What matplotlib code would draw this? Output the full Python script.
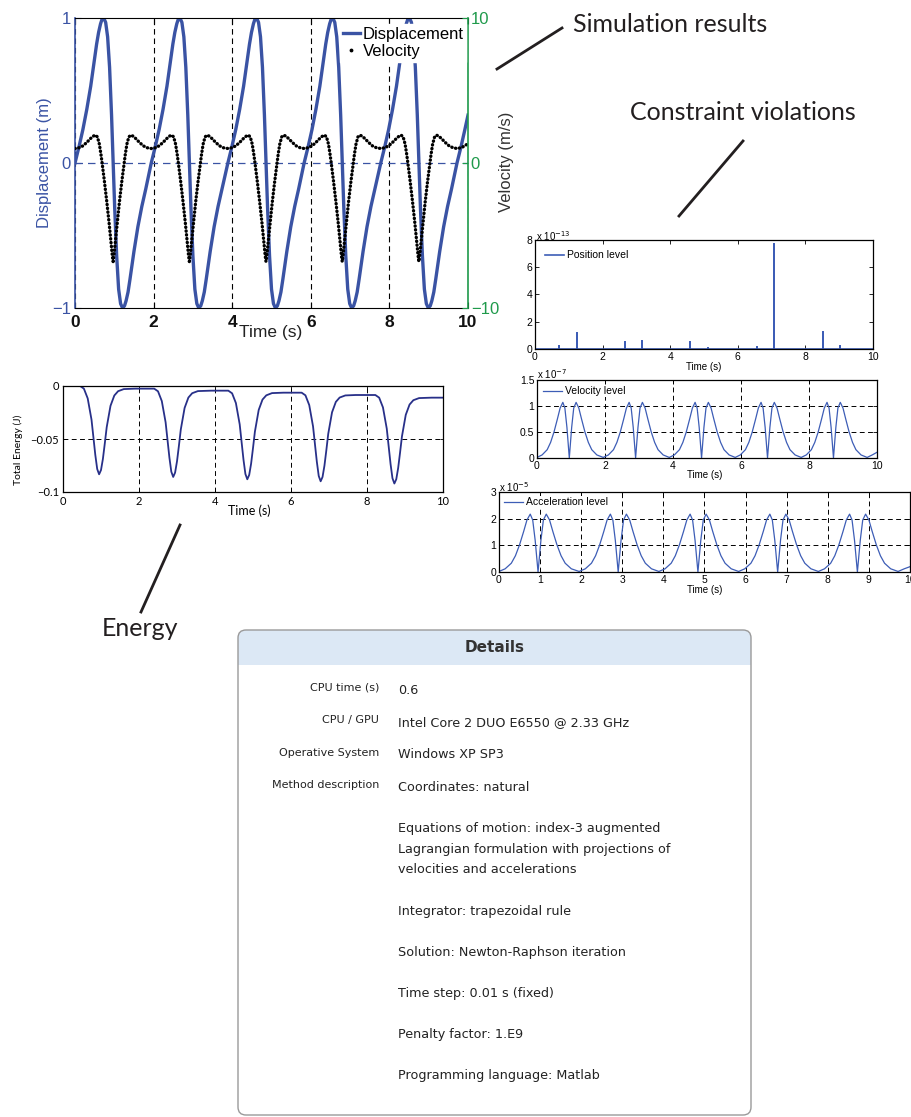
import numpy as np
import matplotlib.pyplot as plt
from matplotlib.lines import Line2D
from matplotlib.patches import FancyBboxPatch, Rectangle

plt.rcParams['font.family'] = ['Liberation Sans', 'DejaVu Sans']

W, H = 911, 1117

# ---- simulation results ----
disp_t = [0, 0.1, 0.2, 0.3, 0.4, 0.5, 0.55, 0.6, 0.65, 0.69, 0.73, 0.78, 0.83, 0.88, 0.93, 0.97, 1.01, 1.06, 1.11, 1.16, 1.21, 1.26, 1.3, 1.35, 1.4, 1.5, 1.6, 1.7, 1.8,
          1.94, 2.04, 2.14, 2.24, 2.34, 2.44, 2.49, 2.54, 2.59, 2.63, 2.67, 2.72, 2.77, 2.82, 2.87, 2.91, 2.95, 3.0, 3.05, 3.1, 3.15, 3.2, 3.24, 3.29, 3.34, 3.44, 3.54, 3.64, 3.74,
          3.89, 3.99, 4.09, 4.19, 4.29, 4.39, 4.44, 4.49, 4.54, 4.58, 4.62, 4.67, 4.72, 4.77, 4.82, 4.86, 4.9, 4.95, 5.0, 5.05, 5.1, 5.15, 5.19, 5.24, 5.29, 5.39, 5.49, 5.59, 5.69,
          5.83, 5.93, 6.03, 6.13, 6.23, 6.33, 6.38, 6.43, 6.48, 6.52, 6.56, 6.61, 6.66, 6.71, 6.76, 6.8, 6.84, 6.89, 6.94, 6.99, 7.04, 7.09, 7.13, 7.18, 7.23, 7.33, 7.43, 7.53, 7.63,
          7.78, 7.88, 7.98, 8.08, 8.18, 8.28, 8.33, 8.38, 8.43, 8.47, 8.51, 8.56, 8.61, 8.66, 8.71, 8.75, 8.79, 8.84, 8.89, 8.94, 8.99, 9.04, 9.08, 9.13, 9.18, 9.28, 9.38, 9.48, 9.58,
          9.72, 9.82, 9.92, 10.0]
disp_m = [0, 0.11, 0.23, 0.37, 0.53, 0.72, 0.82, 0.9, 0.96, 0.993, 1.0, 0.97, 0.87, 0.66, 0.33, 0.02, -0.31, -0.64, -0.87, -0.97, -1.0, -0.985, -0.95, -0.89, -0.8, -0.61, -0.44, -0.3, -0.18,
          0, 0.11, 0.23, 0.37, 0.53, 0.72, 0.82, 0.9, 0.96, 0.993, 1.0, 0.97, 0.87, 0.66, 0.33, 0.02, -0.31, -0.64, -0.87, -0.97, -1.0, -0.985, -0.95, -0.89, -0.8, -0.61, -0.44, -0.3, -0.18,
          0, 0.11, 0.23, 0.37, 0.53, 0.72, 0.82, 0.9, 0.96, 0.993, 1.0, 0.97, 0.87, 0.66, 0.33, 0.02, -0.31, -0.64, -0.87, -0.97, -1.0, -0.985, -0.95, -0.89, -0.8, -0.61, -0.44, -0.3, -0.18,
          0, 0.11, 0.23, 0.37, 0.53, 0.72, 0.82, 0.9, 0.96, 0.993, 1.0, 0.97, 0.87, 0.66, 0.33, 0.02, -0.31, -0.64, -0.87, -0.97, -1.0, -0.985, -0.95, -0.89, -0.8, -0.61, -0.44, -0.3, -0.18,
          0, 0.11, 0.23, 0.37, 0.53, 0.72, 0.82, 0.9, 0.96, 0.993, 1.0, 0.97, 0.87, 0.66, 0.33, 0.02, -0.31, -0.64, -0.87, -0.97, -1.0, -0.985, -0.95, -0.89, -0.8, -0.61, -0.44, -0.3, -0.18,
          0, 0.11, 0.23, 0.33]

vel_t = [0, 0.1, 0.2, 0.3, 0.4, 0.47, 0.52, 0.57, 0.62, 0.66, 0.69, 0.75, 0.81, 0.87, 0.92, 0.95, 0.97, 0.99, 1.02, 1.07, 1.13, 1.19, 1.25, 1.28, 1.32, 1.37, 1.42, 1.47, 1.54, 1.64, 1.74, 1.84,
         1.94, 2.04, 2.14, 2.24, 2.34, 2.41, 2.46, 2.51, 2.56, 2.6, 2.63, 2.69, 2.75, 2.81, 2.86, 2.89, 2.91, 2.93, 2.96, 3.01, 3.07, 3.13, 3.19, 3.22, 3.26, 3.31, 3.36, 3.41, 3.48, 3.58, 3.68, 3.78,
         3.89, 3.99, 4.09, 4.19, 4.29, 4.36, 4.41, 4.46, 4.51, 4.55, 4.58, 4.64, 4.7, 4.76, 4.81, 4.84, 4.86, 4.88, 4.91, 4.96, 5.02, 5.08, 5.14, 5.17, 5.21, 5.26, 5.31, 5.36, 5.43, 5.53, 5.63, 5.73,
         5.83, 5.93, 6.03, 6.13, 6.23, 6.3, 6.35, 6.4, 6.45, 6.49, 6.52, 6.58, 6.64, 6.7, 6.75, 6.78, 6.8, 6.82, 6.85, 6.9, 6.96, 7.02, 7.08, 7.11, 7.15, 7.2, 7.25, 7.3, 7.37, 7.47, 7.57, 7.67,
         7.78, 7.88, 7.98, 8.08, 8.18, 8.25, 8.3, 8.35, 8.4, 8.44, 8.47, 8.53, 8.59, 8.65, 8.7, 8.73, 8.75, 8.77, 8.8, 8.85, 8.91, 8.97, 9.03, 9.06, 9.1, 9.15, 9.2, 9.25, 9.32, 9.42, 9.52, 9.62,
         9.72, 9.82, 9.92, 10.0]
vel_ms = [1.0, 1.05, 1.18, 1.42, 1.7, 1.86, 1.92, 1.8, 1.3, 0.6, 0.0, -1.3, -2.7, -4.2, -5.6, -6.4, -6.8, -6.4, -5.6, -4.2, -2.7, -1.3, 0.0, 0.6, 1.3, 1.8, 1.92, 1.86, 1.7, 1.42, 1.18, 1.05,
          1.0, 1.05, 1.18, 1.42, 1.7, 1.86, 1.92, 1.8, 1.3, 0.6, 0.0, -1.3, -2.7, -4.2, -5.6, -6.4, -6.8, -6.4, -5.6, -4.2, -2.7, -1.3, 0.0, 0.6, 1.3, 1.8, 1.92, 1.86, 1.7, 1.42, 1.18, 1.05,
          1.0, 1.05, 1.18, 1.42, 1.7, 1.86, 1.92, 1.8, 1.3, 0.6, 0.0, -1.3, -2.7, -4.2, -5.6, -6.4, -6.8, -6.4, -5.6, -4.2, -2.7, -1.3, 0.0, 0.6, 1.3, 1.8, 1.92, 1.86, 1.7, 1.42, 1.18, 1.05,
          1.0, 1.05, 1.18, 1.42, 1.7, 1.86, 1.92, 1.8, 1.3, 0.6, 0.0, -1.3, -2.7, -4.2, -5.6, -6.4, -6.8, -6.4, -5.6, -4.2, -2.7, -1.3, 0.0, 0.6, 1.3, 1.8, 1.92, 1.86, 1.7, 1.42, 1.18, 1.05,
          1.0, 1.05, 1.18, 1.42, 1.7, 1.86, 1.92, 1.8, 1.3, 0.6, 0.0, -1.3, -2.7, -4.2, -5.6, -6.4, -6.8, -6.4, -5.6, -4.2, -2.7, -1.3, 0.0, 0.6, 1.3, 1.8, 1.92, 1.86, 1.7, 1.42, 1.18, 1.05,
          1.0, 1.05, 1.18, 1.35]

# ---- constraint violations ----
pos_t = [0.72, 1.23, 2.66, 3.17, 4.6, 5.13, 6.56, 7.07, 8.51, 9.02]
pos_viol = [0.2, 1.2, 0.5, 0.58, 0.52, 0.05, 0.15, 7.7, 1.27, 0.2]   # x 1e-13

level_t = [0.0, 0.15, 0.3, 0.4, 0.5, 0.6, 0.68, 0.76, 0.82, 0.88, 0.95, 1.02, 1.08, 1.15, 1.23, 1.31, 1.41, 1.51, 1.61, 1.76,
           1.95, 2.1, 2.25, 2.35, 2.45, 2.55, 2.63, 2.71, 2.77, 2.83, 2.9, 2.97, 3.03, 3.1, 3.18, 3.26, 3.36, 3.46, 3.56, 3.71,
           3.89, 4.04, 4.19, 4.29, 4.39, 4.49, 4.57, 4.65, 4.71, 4.77, 4.84, 4.91, 4.97, 5.04, 5.12, 5.2, 5.3, 5.4, 5.5, 5.65,
           5.83, 5.98, 6.13, 6.23, 6.33, 6.43, 6.51, 6.59, 6.65, 6.71, 6.78, 6.85, 6.91, 6.98, 7.06, 7.14, 7.24, 7.34, 7.44, 7.59,
           7.77, 7.92, 8.07, 8.17, 8.27, 8.37, 8.45, 8.53, 8.59, 8.65, 8.72, 8.79, 8.85, 8.92, 9.0, 9.08, 9.18, 9.28, 9.38, 9.53,
           9.71, 9.86, 10.0]
vel_viol = [0.011, 0.059, 0.16, 0.3, 0.5, 0.75, 0.96, 1.07, 0.96, 0.59, 0.0, 0.59, 0.96, 1.07, 0.96, 0.75, 0.5, 0.3, 0.16, 0.059,
            0.011, 0.059, 0.16, 0.3, 0.5, 0.75, 0.96, 1.07, 0.96, 0.59, 0.0, 0.59, 0.96, 1.07, 0.96, 0.75, 0.5, 0.3, 0.16, 0.059,
            0.011, 0.059, 0.16, 0.3, 0.5, 0.75, 0.96, 1.07, 0.96, 0.59, 0.0, 0.59, 0.96, 1.07, 0.96, 0.75, 0.5, 0.3, 0.16, 0.059,
            0.011, 0.059, 0.16, 0.3, 0.5, 0.75, 0.96, 1.07, 0.96, 0.59, 0.0, 0.59, 0.96, 1.07, 0.96, 0.75, 0.5, 0.3, 0.16, 0.059,
            0.011, 0.059, 0.16, 0.3, 0.5, 0.75, 0.96, 1.07, 0.96, 0.59, 0.0, 0.59, 0.96, 1.07, 0.96, 0.75, 0.5, 0.3, 0.16, 0.059,
            0.011, 0.059, 0.11]   # x 1e-7
acc_viol = [0.02, 0.12, 0.33, 0.61, 1.02, 1.52, 1.95, 2.17, 1.95, 1.19, 0.0, 1.19, 1.95, 2.17, 1.95, 1.52, 1.02, 0.61, 0.33, 0.12,
            0.02, 0.12, 0.33, 0.61, 1.02, 1.52, 1.95, 2.17, 1.95, 1.19, 0.0, 1.19, 1.95, 2.17, 1.95, 1.52, 1.02, 0.61, 0.33, 0.12,
            0.02, 0.12, 0.33, 0.61, 1.02, 1.52, 1.95, 2.17, 1.95, 1.19, 0.0, 1.19, 1.95, 2.17, 1.95, 1.52, 1.02, 0.61, 0.33, 0.12,
            0.02, 0.12, 0.33, 0.61, 1.02, 1.52, 1.95, 2.17, 1.95, 1.19, 0.0, 1.19, 1.95, 2.17, 1.95, 1.52, 1.02, 0.61, 0.33, 0.12,
            0.02, 0.12, 0.33, 0.61, 1.02, 1.52, 1.95, 2.17, 1.95, 1.19, 0.0, 1.19, 1.95, 2.17, 1.95, 1.52, 1.02, 0.61, 0.33, 0.12,
            0.02, 0.12, 0.2]   # x 1e-5

# ---- energy ----
energy_t = [0, 0.3, 0.45, 0.55, 0.65, 0.75, 0.8, 0.85, 0.9, 0.95, 1.0, 1.05, 1.1, 1.15, 1.25, 1.35, 1.45, 1.6, 1.9,
            2.4, 2.5, 2.6, 2.7, 2.75, 2.8, 2.85, 2.9, 2.95, 3.0, 3.05, 3.1, 3.2, 3.3, 3.4, 3.55, 3.9,
            4.35, 4.45, 4.55, 4.65, 4.7, 4.75, 4.8, 4.85, 4.9, 4.95, 5.0, 5.05, 5.15, 5.25, 5.35, 5.5, 5.8,
            6.28, 6.38, 6.48, 6.58, 6.63, 6.68, 6.73, 6.78, 6.83, 6.88, 6.93, 6.98, 7.08, 7.18, 7.28, 7.43, 7.7,
            8.22, 8.32, 8.42, 8.52, 8.57, 8.62, 8.67, 8.72, 8.77, 8.82, 8.87, 8.92, 9.02, 9.12, 9.22, 9.37, 9.7, 10.0]
energy_j = [0, 0, 0, -0.0025, -0.0117, -0.0317, -0.0483, -0.065, -0.0783, -0.0833, -0.0793, -0.0688, -0.0542, -0.0389, -0.0187, -0.009, -0.0049, -0.0029, -0.0025,
            -0.0025, -0.005, -0.0142, -0.0342, -0.0508, -0.0675, -0.0808, -0.0858, -0.0817, -0.0711, -0.0565, -0.041, -0.0207, -0.0109, -0.0068, -0.0048, -0.0044,
            -0.0044, -0.0069, -0.0161, -0.0362, -0.0529, -0.0696, -0.083, -0.088, -0.0839, -0.0733, -0.0586, -0.0431, -0.0226, -0.0128, -0.0088, -0.0067, -0.0063,
            -0.0063, -0.0088, -0.018, -0.0381, -0.0548, -0.0715, -0.0849, -0.0899, -0.0858, -0.0752, -0.0606, -0.0451, -0.0248, -0.015, -0.0109, -0.0089, -0.0085,
            -0.0085, -0.011, -0.0202, -0.0402, -0.0569, -0.0736, -0.087, -0.092, -0.088, -0.0774, -0.0628, -0.0475, -0.0272, -0.0175, -0.0134, -0.0114, -0.011, -0.011]

# ---- details table ----
detail_labels = ["CPU time (s)", "CPU / GPU", "Operative System", "Method description"]
detail_values = ["0.6", "Intel Core 2 DUO E6550 @ 2.33 GHz", "Windows XP SP3", "Coordinates: natural"]
method_notes = [
    ["Equations of motion: index-3 augmented",
     "Lagrangian formulation with projections of",
     "velocities and accelerations"],
    ["Integrator: trapezoidal rule"],
    ["Solution: Newton-Raphson iteration"],
    ["Time step: 0.01 s (fixed)"],
    ["Penalty factor: 1.E9"],
    ["Programming language: Matlab"],
]

BLUE = '#3a53a4'
GREEN = '#1f9a4b'
NAVY = '#283089'
LBLUE = '#3d5db6'
DASH = (0, (5, 3.5))

fig = plt.figure(figsize=(W / 100, H / 100), dpi=100)


def px_axes(left, top, right, bottom):
    return fig.add_axes([left / W, 1 - bottom / H, (right - left) / W, (bottom - top) / H])


# ---------------- main plot ----------------
ax = px_axes(75, 18, 468, 308)
ax.plot(disp_t, disp_m, color=BLUE, lw=2.4)
ax.set_xlim(0, 10)
ax.set_ylim(-1, 1)
ax.set_xticks(range(0, 11, 2))
ax.set_yticks([-1, 0, 1])
ax.grid(axis='x', color='k', ls=DASH, lw=0.8)
ax.axhline(0, color=BLUE, ls=(0, (6, 4)), lw=0.9)
ax.tick_params(axis='x', direction='in', length=4, labelsize=12.5, pad=5, top=True,
               labelcolor='#111111')
ax.tick_params(axis='y', direction='in', length=4, labelsize=12, colors=BLUE, pad=3)
for lab in ax.get_xticklabels():
    lab.set_fontweight('bold')
ax.spines['left'].set_color(BLUE)
ax.spines['left'].set_linewidth(1.2)
ax.spines['right'].set_visible(False)

ax2 = ax.twinx()
ax2.plot(vel_t, vel_ms, color='k', lw=2.4, ls=(0, (0.1, 1.05)), dash_capstyle='round')
ax2.set_ylim(-10, 10)
ax2.set_yticks([-10, 0, 10])
ax2.tick_params(axis='y', direction='in', length=4, labelsize=12, colors=GREEN, pad=2)
for s in ['left', 'top', 'bottom']:
    ax2.spines[s].set_visible(False)
ax2.spines['right'].set_color(GREEN)
ax2.spines['right'].set_linewidth(1.2)

handles = [Line2D([], [], color=BLUE, lw=2.4),
           Line2D([], [], color='k', marker='.', ls='none', markersize=3.5)]
leg = ax2.legend(handles, ['Displacement', 'Velocity'], loc='upper right',
                 bbox_to_anchor=(1.0, 0.985), fontsize=12, frameon=True,
                 framealpha=1, facecolor='white', edgecolor='white', fancybox=False,
                 handlelength=1.0, handletextpad=0.2, labelspacing=0.15,
                 borderpad=0.15, borderaxespad=0.1)


def small_axes(a, ylim, yticks, ylabels, xticks, dash_x, dash_y):
    a.set_xlim(0, 10)
    a.set_ylim(*ylim)
    a.set_yticks(yticks)
    a.set_yticklabels(ylabels)
    a.set_xticks(xticks)
    a.tick_params(direction='in', length=3, width=0.6, labelsize=7.5, pad=2,
                  top=True, right=True)
    for s in a.spines.values():
        s.set_linewidth(0.9)
    for x in dash_x:
        a.axvline(x, color='k', ls=DASH, lw=0.7, zorder=0)
    for y in dash_y:
        a.axhline(y, color='k', ls=DASH, lw=0.7, zorder=0)


# ---------------- position level ----------------
axp = px_axes(535, 240, 873, 349)
path_t = [0.0]
path_v = [0.0]
for t, v in zip(pos_t, pos_viol):
    path_t += [t, t, t]
    path_v += [0.0, v, 0.0]
path_t.append(10.0)
path_v.append(0.0)
axp.plot(path_t, path_v, color=LBLUE, lw=1.2, label='Position level')
small_axes(axp, (0, 8), [0, 2, 4, 6, 8], ['0', '2', '4', '6', '8'], range(0, 11, 2), [], [])
axp.legend(loc='upper left', fontsize=7.5, frameon=False, handlelength=1.8,
           handletextpad=0.3, borderaxespad=0.6)

# ---------------- velocity level ----------------
axv = px_axes(537, 380, 877, 458)
axv.plot(level_t, vel_viol, color=LBLUE, lw=0.9, label='Velocity level')
small_axes(axv, (0, 1.5), [0, 0.5, 1, 1.5], ['0', '0.5', '1', '1.5'], range(0, 11, 2),
           [2, 4, 6, 8], [0.5, 1])
axv.legend(loc='upper left', fontsize=7.5, frameon=True, facecolor='white',
           edgecolor='none', framealpha=1, fancybox=False, handlelength=1.8,
           handletextpad=0.3, borderpad=0.1, borderaxespad=0.5)

# ---------------- acceleration level ----------------
axa = px_axes(499, 492, 910, 572)
axa.plot(level_t, acc_viol, color=LBLUE, lw=0.9, label='Acceleration level')
small_axes(axa, (0, 3), [0, 1, 2, 3], ['0', '1', '2', '3'], range(0, 11), range(1, 10), [1, 2])
axa.legend(loc='upper left', fontsize=7.5, frameon=True, facecolor='white',
           edgecolor='none', framealpha=1, fancybox=False, handlelength=1.8,
           handletextpad=0.3, borderpad=0.1, borderaxespad=0.4)

# ---------------- energy ----------------
axe = px_axes(63, 386, 443, 492)
axe.plot(energy_t, energy_j, color=NAVY, lw=1.3)
axe.set_xlim(0, 10)
axe.set_ylim(-0.1, 0)
axe.set_xticks(range(0, 11, 2))
axe.set_yticks([-0.1, -0.05, 0])
axe.set_yticklabels(['\u22120.1', '\u22120.05', '0'])
axe.tick_params(direction='in', length=2, width=0.6, labelsize=8, pad=3, top=True, right=True)
for lab in axe.get_xticklabels() + axe.get_yticklabels():
    lab.set_fontfamily('Lato')
for s in axe.spines.values():
    s.set_linewidth(0.9)
for x in [2, 4, 6, 8]:
    axe.axvline(x, color='k', ls=DASH, lw=0.7, zorder=0)
axe.axhline(-0.05, color='k', ls=DASH, lw=0.7, zorder=0)

# ---------------- overlay in pixel coordinates ----------------
ov = fig.add_axes([0, 0, 1, 1])
ov.set_xlim(0, W)
ov.set_ylim(H, 0)
ov.axis('off')

# axis labels
ov.text(45, 163, 'Displacement (m)', rotation=90, ha='center', va='center', fontsize=12, color=BLUE)
ov.text(506, 162, 'Velocity (m/s)', rotation=90, ha='center', va='center', fontsize=12, color='#333333')
ov.text(271, 333, 'Time (s)', ha='center', va='center', fontsize=12.5, color='#222222')
ov.text(704, 367, 'Time (s)', ha='center', va='center', fontsize=7)
ov.text(705, 475, 'Time (s)', ha='center', va='center', fontsize=7)
ov.text(705, 590, 'Time (s)', ha='center', va='center', fontsize=7)
ov.text(249, 511, 'Time (s)', ha='center', va='center', fontsize=9, family='Lato')
ov.text(18, 450, 'Total Energy (J)', rotation=90, ha='center', va='center', fontsize=7.5, family='Lato')

# exponent labels
ov.text(536, 236, r'x 10$^{-13}$', ha='left', va='center', fontsize=7)
ov.text(537, 374, r'x 10$^{-7}$', ha='left', va='center', fontsize=7)
ov.text(499, 487, r'x 10$^{-5}$', ha='left', va='center', fontsize=7)

# callouts
ink = '#231f20'
ov.plot([497, 562], [69, 28], color=ink, lw=2.0)
ov.plot([679, 743], [216, 141], color=ink, lw=2.0)
ov.plot([141, 180], [612, 525], color=ink, lw=2.0)
ov.text(573, 25, 'Simulation results', ha='left', va='center', fontsize=18, family='Lato', color=ink)
ov.text(630, 112, 'Constraint violations', ha='left', va='center', fontsize=18, family='Lato', color=ink)
ov.text(102, 628, 'Energy', ha='left', va='center', fontsize=18, family='Lato', color=ink)

# details box
bx0, by0, bx1, by1, r = 238, 630, 751, 1115, 8
box = FancyBboxPatch((bx0 + r, by0 + r), bx1 - bx0 - 2 * r, by1 - by0 - 2 * r,
                     boxstyle=f"round,pad={r},rounding_size={r}",
                     facecolor='white', edgecolor='none')
ov.add_patch(box)
head = Rectangle((bx0, by0), bx1 - bx0, 35, facecolor='#dce8f5', edgecolor='none')
ov.add_patch(head)
head.set_clip_path(box)
ov.add_patch(FancyBboxPatch((bx0 + r, by0 + r), bx1 - bx0 - 2 * r, by1 - by0 - 2 * r,
                            boxstyle=f"round,pad={r},rounding_size={r}",
                            facecolor='none', edgecolor='#9a9a9a', lw=1.0))
ov.text((bx0 + bx1) / 2, 648, 'Details', ha='center', va='center', fontsize=11,
        fontweight='bold', family='DejaVu Sans', color='#333333')

row_y = [690, 722.5, 755, 787.5]
for y, lab, val in zip(row_y, detail_labels, detail_values):
    ov.text(379, y - 2, lab, ha='right', va='center', fontsize=8, family='DejaVu Sans', color='#222222')
    ov.text(398, y, val, ha='left', va='center', fontsize=9.2, family='DejaVu Sans', color='#222222')

y = 828.5
for block in method_notes:
    for line in block:
        ov.text(398, y, line, ha='left', va='center', fontsize=9.2, family='DejaVu Sans', color='#222222')
        y += 20.7
    y += 20.5

fig.savefig('out.png', dpi=100)
